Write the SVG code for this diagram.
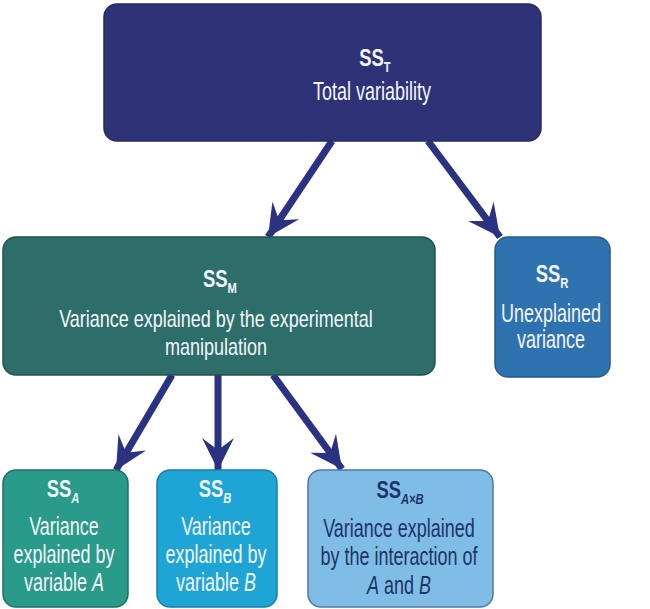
<svg xmlns="http://www.w3.org/2000/svg" width="650" height="609" viewBox="0 0 650 609">
  <defs>
    <marker id="barb" markerUnits="userSpaceOnUse" markerWidth="44" markerHeight="44" viewBox="-36 -22 44 44" refX="0" refY="0" orient="auto">
      <path d="M0,0 L-32,-16 L-20,0 L-32,16 Z" fill="#2b3282"/>
    </marker>
    <style>
      .box { stroke-width: 1.5; }
      .t { font-family: "Liberation Sans", Arial, sans-serif; text-anchor: middle; fill: #f4f6fb; font-size: 25px; }
      .m { font-size: 24px; }
      .ss { font-weight: bold; font-size: 23px; }
      .sub { font-size: 14px; }
      .dark { fill: #1d3466; }
      .conn { stroke: #2b3282; stroke-width: 7; fill: none; marker-end: url(#barb); }
    </style>
  </defs>
  <rect width="650" height="609" fill="#ffffff"/>

  <g id="connectors">
    <line class="conn" x1="332" y1="141" x2="268" y2="237"/>
    <line class="conn" x1="428" y1="141" x2="500" y2="237"/>
    <line class="conn" x1="172" y1="375" x2="116" y2="470"/>
    <line class="conn" x1="218" y1="375" x2="218" y2="470"/>
    <line class="conn" x1="273" y1="375" x2="342" y2="469"/>
  </g>

  <g id="ss-total">
    <rect class="box" x="104" y="4" width="437" height="137" rx="13" fill="#2e3378" stroke="#252a66"/>
    <text class="t ss" transform="translate(375 66) scale(0.8 1)">SS<tspan class="sub" dy="6">T</tspan></text>
    <text class="t" transform="translate(372 100) scale(0.72 1)">Total variability</text>
  </g>

  <g id="ss-model">
    <rect class="box" x="3" y="237" width="432" height="138" rx="13" fill="#2d6e6a" stroke="#1f5250"/>
    <text class="t ss" transform="translate(220 287) scale(0.8 1)">SS<tspan class="sub" dy="6">M</tspan></text>
    <text class="t m" transform="translate(216 327) scale(0.75 1)">Variance explained by the experimental</text>
    <text class="t m" transform="translate(216 355) scale(0.75 1)">manipulation</text>
  </g>

  <g id="ss-residual">
    <rect class="box" x="495" y="237" width="115" height="140" rx="13" fill="#2f72b0" stroke="#245a8c"/>
    <text class="t ss" transform="translate(552 282) scale(0.8 1)">SS<tspan class="sub" dy="6">R</tspan></text>
    <text class="t" transform="translate(551 322) scale(0.72 1)">Unexplained</text>
    <text class="t" transform="translate(551 348) scale(0.72 1)">variance</text>
  </g>

  <g id="ss-a">
    <rect class="box" x="3" y="470" width="125" height="137" rx="13" fill="#2a9a8a" stroke="#1f6f64"/>
    <text class="t ss" transform="translate(63 497) scale(0.8 1)">SS<tspan class="sub" dy="6" font-style="italic">A</tspan></text>
    <text class="t" transform="translate(64 535) scale(0.72 1)">Variance</text>
    <text class="t" transform="translate(64 563) scale(0.72 1)">explained by</text>
    <text class="t" transform="translate(64 591) scale(0.72 1)">variable <tspan font-style="italic">A</tspan></text>
  </g>

  <g id="ss-b">
    <rect class="box" x="157" y="470" width="120" height="137" rx="13" fill="#1ea5d6" stroke="#1a7ea5"/>
    <text class="t ss" transform="translate(215 497) scale(0.8 1)">SS<tspan class="sub" dy="6" font-style="italic">B</tspan></text>
    <text class="t" transform="translate(216 535) scale(0.72 1)">Variance</text>
    <text class="t" transform="translate(216 563) scale(0.72 1)">explained by</text>
    <text class="t" transform="translate(216 591) scale(0.72 1)">variable <tspan font-style="italic">B</tspan></text>
  </g>

  <g id="ss-axb">
    <rect class="box" x="308" y="470" width="185" height="137" rx="13" fill="#80bde6" stroke="#4c78a8"/>
    <text class="t ss dark" transform="translate(400 498) scale(0.8 1)">SS<tspan class="sub" dy="6" font-style="italic">A×B</tspan></text>
    <text class="t dark" transform="translate(399 537) scale(0.72 1)">Variance explained</text>
    <text class="t dark" transform="translate(399 565) scale(0.72 1)">by the interaction of</text>
    <text class="t dark" transform="translate(399 594) scale(0.72 1)"><tspan font-style="italic">A</tspan> and <tspan font-style="italic">B</tspan></text>
  </g>
</svg>
